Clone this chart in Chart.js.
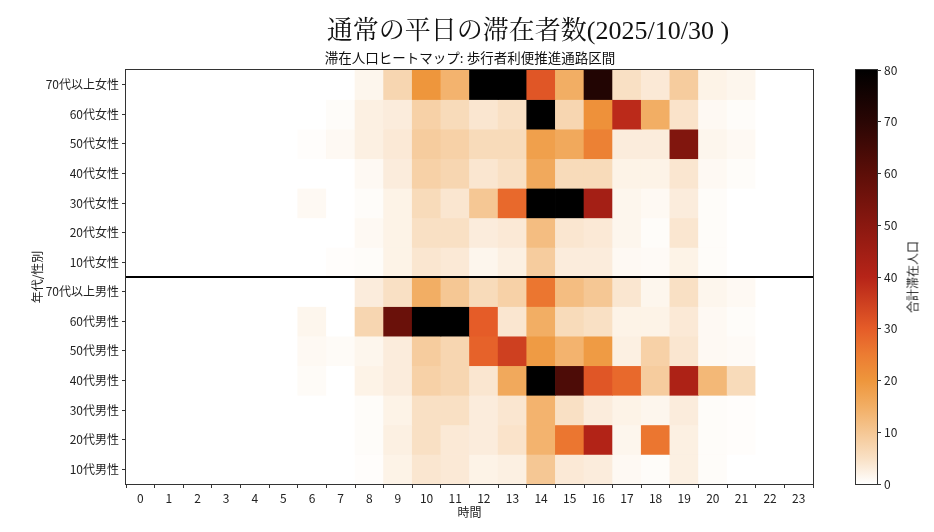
<!DOCTYPE html>
<html>
<head>
<meta charset="utf-8">
<script src="https://cdn.jsdelivr.net/npm/chart.js@4/dist/chart.umd.min.js"></script>
<style>
  body { margin: 0; background: #fff; }
  #wrap { position: relative; width: 934px; height: 532px; font-family: "Noto Sans CJK JP", sans-serif; color: #222; }
  canvas { position: absolute; left: 0; top: 0; }
  #title { position: absolute; left: 528px; top: 27px; transform: translate(-50%, -50%); white-space: nowrap;
           font-family: "Liberation Serif", "Noto Serif CJK JP", serif; font-size: 26px; color: #111; }
  #subtitle { position: absolute; left: 470px; top: 57px; transform: translate(-50%, -50%); white-space: nowrap; font-size: 13.5px; color: #111; }
  #cbLabel { position: absolute; left: 912px; top: 277px; transform: translate(-50%, -50%) rotate(-90deg); white-space: nowrap; font-size: 12px; color: #222; }
</style>
</head>
<body>
<div id="wrap">
  <canvas id="heat" width="934" height="532"></canvas>
  <canvas id="cbar" width="934" height="532"></canvas>
  <div id="title">通常の平日の滞在者数(2025/10/30 )</div>
  <div id="subtitle">滞在人口ヒートマップ: 歩行者利便推進通路区間</div>
  <div id="cbLabel">合計滞在人口</div>
</div>
<script>
// hours on the x axis
const hours = ['0','1','2','3','4','5','6','7','8','9','10','11','12','13','14','15','16','17','18','19','20','21','22','23'];

// rows, top to bottom
const rowLabels = ['70代以上女性','60代女性','50代女性','40代女性','30代女性','20代女性','10代女性',
                   '70代以上男性','60代男性','50代男性','40代男性','30代男性','20代男性','10代男性'];

// values per hour 0..23
const f70 = [0,0,0,0,0,0,0,0,1.5,7,20,14,80,80,31,15,72,5,3.5,9,2,1.5,0,0];
const f60 = [0,0,0,0,0,0,0,0.5,2.5,3,8,6,4,5,80,7,21,39,15,4.5,1,0.5,0,0];
const f50 = [0,0,0,0,0,0,0.3,1,2.5,3.5,9,8,6,6,18,16,24,3,3,52,1.5,1,0,0];
const f40 = [0,0,0,0,0,0,0,0,1,3,8,7,4,5,16,6,6,2,2,4,1,0.5,0,0];
const f30 = [0,0,0,0,0,0,1,0,0.5,2,6,4,10,28,80,80,44,1.5,1,3,0.5,0,0,0];
const f20 = [0,0,0,0,0,0,0,0,1,2,5,5,3,3.5,12,4,3.5,1.5,0.5,4,0.5,0,0,0];
const f10 = [0,0,0,0,0,0,0,0.3,0.5,2,4,3.5,1.5,2.5,9,3,3,1,0.8,2,0.5,0,0,0];
const m70 = [0,0,0,0,0,0,0,0,3,5,15,10,6,8,26,12,10,4,1.5,5,1.5,1,0,0];
const m60 = [0,0,0,0,0,0,1.5,0,7,57,80,80,30,4,15,6,5,2,2,3.5,1,0.5,0,0];
const m50 = [0,0,0,0,0,0,1,0.7,1.5,3,9,7,29,35,19,14,19,2.5,8,4,1,0.8,0,0];
const m40 = [0,0,0,0,0,0,0.7,0,2,3,8,7,4,16,80,63,31,28,9,42,13,6,0,0];
const m30 = [0,0,0,0,0,0,0,0,0.5,2,5,5,3,4,14,5,3,2,1.5,3,0.5,0.3,0,0];
const m20 = [0,0,0,0,0,0,0,0,0.5,2.5,5,3.5,3,4.5,14,26,41,1.5,26,2.5,0.5,0.3,0,0];
const m10 = [0,0,0,0,0,0,0,0,0.3,2,4,3.5,2,2.5,10,3.5,3,1,0.5,2.5,0.5,0,0,0];

const rows = [f70, f60, f50, f40, f30, f20, f10, m70, m60, m50, m40, m30, m20, m10];

// colour scale stops (value, rgb)
const vmax = 80;
const cmap = [
  [0, [255,255,255]], [5, [249,224,196]], [10, [245,199,148]], [15, [242,174,100]],
  [20, [238,150,60]], [25, [236,124,50]], [30, [229,92,40]], [40, [182,36,24]],
  [50, [138,24,16]], [60, [92,14,8]], [70, [42,6,4]], [80, [0,0,0]]
];

function colorFor(v) {
  v = Math.max(0, Math.min(vmax, v));
  for (let i = 1; i < cmap.length; i++) {
    const [v1, c1] = cmap[i];
    const [v0, c0] = cmap[i - 1];
    if (v <= v1) {
      const t = (v - v0) / (v1 - v0);
      const c = c0.map((x, k) => Math.round(x + (c1[k] - x) * t));
      return `rgb(${c[0]},${c[1]},${c[2]})`;
    }
  }
  return 'rgb(0,0,0)';
}

Chart.defaults.font.family = '"Noto Sans CJK JP", sans-serif';
Chart.defaults.font.size = 12;
Chart.defaults.color = '#222';

// frame around the plot area, plus the female/male separator
const framePlugin = {
  id: 'frame',
  afterDatasetsDraw(chart, args, opts) {
    const { ctx, chartArea: a } = chart;
    ctx.save();
    if (opts.split != null) {
      const y = chart.scales.y.getPixelForValue(opts.split);
      ctx.strokeStyle = '#000';
      ctx.lineWidth = 2;
      ctx.beginPath();
      ctx.moveTo(a.left, y);
      ctx.lineTo(a.right, y);
      ctx.stroke();
    }
    ctx.strokeStyle = '#333';
    ctx.lineWidth = 1;
    ctx.strokeRect(a.left - 0.5, a.top - 0.5, a.right - a.left + 1, a.bottom - a.top + 1);
    ctx.restore();
  }
};

const heatDatasets = rows.map((vals, r) => ({
  label: rowLabels[r],
  data: hours.map(() => [r, r + 1]),
  backgroundColor: (c) => colorFor(vals[c.dataIndex]),
  borderWidth: 0,
  barPercentage: 1,
  categoryPercentage: 1,
  grouped: false
}));

new Chart(document.getElementById('heat'), {
  type: 'bar',
  data: { labels: hours, datasets: heatDatasets },
  plugins: [framePlugin],
  options: {
    responsive: false,
    animation: false,
    layout: { padding: { left: 26, right: 121, top: 70, bottom: 8 } },
    plugins: {
      legend: { display: false },
      tooltip: { enabled: false },
      frame: { split: 7 }
    },
    scales: {
      x: {
        grid: { display: true, drawOnChartArea: false, tickLength: 4, color: '#333' },
        border: { display: false },
        ticks: { color: '#222', padding: 3, maxRotation: 0, autoSkip: false },
        title: { display: true, text: '時間', color: '#222', font: { size: 12 } },
        afterFit: (s) => { s.height = 40; }
      },
      y: {
        type: 'linear',
        min: 0,
        max: rows.length,
        reverse: true,
        grid: { display: true, drawOnChartArea: false, tickLength: 4, color: '#333' },
        border: { display: false },
        afterBuildTicks: (s) => { s.ticks = rowLabels.map((_, i) => ({ value: i + 0.5 })); },
        ticks: { color: '#222', padding: 3, autoSkip: false, callback: (v) => rowLabels[Math.floor(v)] },
        title: { display: true, text: '年代/性別', color: '#222', font: { size: 12 } },
        afterFit: (s) => { s.width = 100; }
      }
    }
  }
});

// colour bar
new Chart(document.getElementById('cbar'), {
  type: 'bar',
  data: {
    labels: [''],
    datasets: [{
      data: [[0, vmax]],
      backgroundColor: (c) => {
        const a = c.chart.chartArea;
        if (!a) return null;
        const g = c.chart.ctx.createLinearGradient(0, a.bottom, 0, a.top);
        cmap.forEach(([v, col]) => g.addColorStop(v / vmax, `rgb(${col[0]},${col[1]},${col[2]})`));
        return g;
      },
      borderWidth: 0,
      barPercentage: 1,
      categoryPercentage: 1
    }]
  },
  plugins: [framePlugin],
  options: {
    responsive: false,
    animation: false,
    layout: { padding: { left: 856, right: 11, top: 70, bottom: 48 } },
    plugins: { legend: { display: false }, tooltip: { enabled: false } },
    scales: {
      x: { display: false },
      y: {
        position: 'right',
        min: 0,
        max: vmax,
        grid: { display: true, drawOnChartArea: false, tickLength: 4, color: '#333' },
        border: { display: false },
        ticks: { stepSize: 10, color: '#222', padding: 3 },
        afterFit: (s) => { s.width = 46; }
      }
    }
  }
});
</script>
</body>
</html>
